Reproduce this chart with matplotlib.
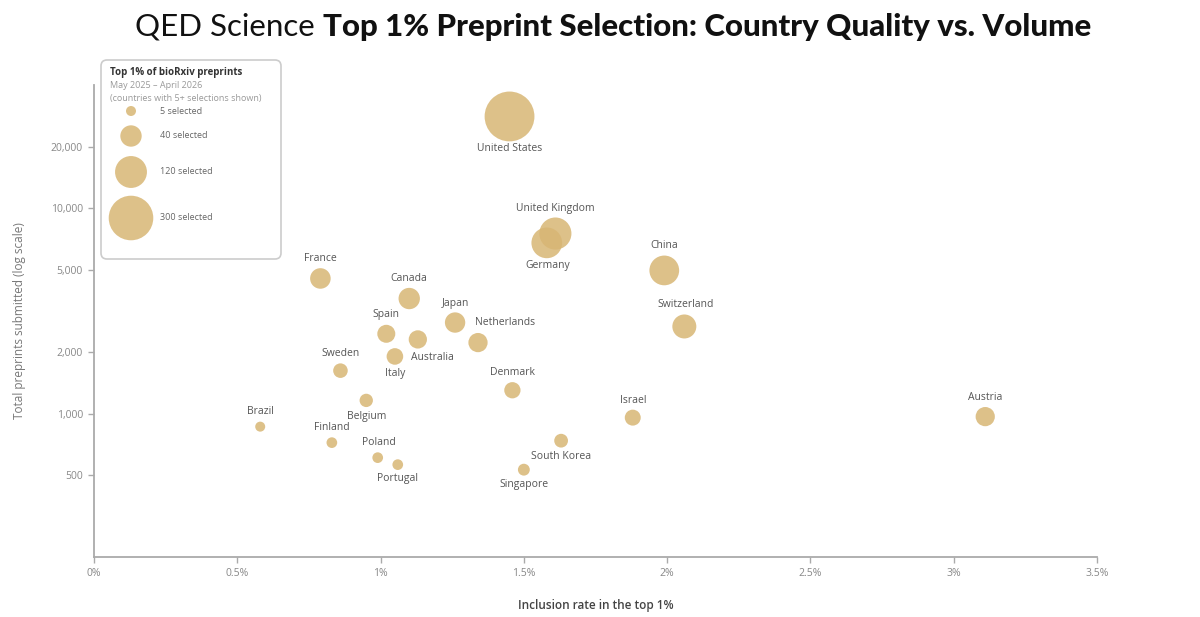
import matplotlib
matplotlib.use('Agg')
import matplotlib.pyplot as plt
from matplotlib.patches import FancyBboxPatch
from matplotlib.ticker import FuncFormatter, FixedLocator, NullLocator
import numpy as np

plt.rcParams['font.family'] = ['Open Sans', 'DejaVu Sans']

# data
countries = ['United States', 'United Kingdom', 'Germany', 'China', 'Switzerland',
             'France', 'Canada', 'Japan', 'Netherlands', 'Spain', 'Australia',
             'Italy', 'Sweden', 'Denmark', 'Belgium', 'Israel', 'Austria',
             'Brazil', 'Finland', 'South Korea', 'Poland', 'Portugal', 'Singapore']
inclusion_rate = [1.45, 1.61, 1.58, 1.99, 2.06,
                  0.79, 1.10, 1.26, 1.34, 1.02, 1.13,
                  1.05, 0.86, 1.46, 0.95, 1.88, 3.11,
                  0.58, 0.83, 1.63, 0.99, 1.06, 1.50]
total_preprints = [28100, 7550, 6800, 4990, 2660,
                   4560, 3640, 2780, 2220, 2450, 2300,
                   1900, 1620, 1300, 1160, 956, 967,
                   864, 722, 738, 610, 564, 533]
selected = [407, 122, 108, 99, 55,
            36, 40, 35, 30, 25, 26,
            20, 14, 19, 11, 18, 30,
            5, 6, 12, 6, 6, 8]
legend_counts = [5, 40, 120, 300]
x_ticks = [0, 0.5, 1, 1.5, 2, 2.5, 3, 3.5]
y_ticks = [500, 1000, 2000, 5000, 10000, 20000]

# label offsets (pixels) relative to bubble centre
label_offsets = {
    'United States': (0, -32), 'United Kingdom': (0, 25), 'Germany': (1, -23),
    'China': (0, 25), 'Switzerland': (1, 22), 'France': (0, 20), 'Canada': (0, 20),
    'Japan': (0, 19), 'Netherlands': (27, 20), 'Spain': (0, 19), 'Australia': (15, -18),
    'Italy': (0, -17), 'Sweden': (0, 17), 'Denmark': (0, 18), 'Belgium': (0, -16),
    'Israel': (0, 17), 'Austria': (0, 19), 'Brazil': (0, 15), 'Finland': (0, 15),
    'South Korea': (0, -16), 'Poland': (1, 15), 'Portugal': (0, -14), 'Singapore': (0, -15),
}

DPI = 100
W, H = 1200, 617
BUBBLE = '#D8B674'
GREY = '#888888'


def bubble_size(n):
    r_px = 5 * (np.asarray(n, dtype=float) / 5) ** 0.365
    return (2 * r_px * 72 / DPI) ** 2


fig = plt.figure(figsize=(W / DPI, H / DPI), dpi=DPI)
ax = fig.add_axes([94 / W, 1 - 557 / H, (1097 - 94) / W, (557 - 85) / H])

order = np.argsort(selected)[::-1]
ax.scatter(np.array(inclusion_rate)[order], np.array(total_preprints)[order],
           s=bubble_size(np.array(selected)[order]), color=BUBBLE, alpha=0.85,
           linewidths=0, zorder=3)

for c, xr, yt in zip(countries, inclusion_rate, total_preprints):
    dx, dy = label_offsets[c]
    ax.annotate(c, (xr, yt), xytext=(dx, dy), textcoords='offset pixels',
                ha='center', va='center', fontsize=7.5, color='#555555', zorder=4)

ax.set_yscale('log')
ax.set_xlim(0, 3.5)
ax.set_ylim(200, 40000)
ax.xaxis.set_major_locator(FixedLocator(x_ticks))
ax.yaxis.set_major_locator(FixedLocator(y_ticks))
ax.yaxis.set_minor_locator(NullLocator())
ax.xaxis.set_major_formatter(FuncFormatter(lambda v, p: ('%g' % v) + '%'))
ax.yaxis.set_major_formatter(FuncFormatter(lambda v, p: '{:,.0f}'.format(v)))

for spine in ['top', 'right']:
    ax.spines[spine].set_visible(False)
for spine in ['left', 'bottom']:
    ax.spines[spine].set_color('#aaaaaa')
    ax.spines[spine].set_linewidth(1.3)
ax.tick_params(axis='both', direction='out', color='#aaaaaa', length=4, width=1,
               labelsize=7.5, labelcolor=GREY, pad=4)

ax.set_xlabel('Inclusion rate in the top 1%', fontsize=8.5, color='#444444',
              fontweight='semibold', labelpad=14)
ax.set_ylabel('Total preprints submitted (log scale)', fontsize=8.5, color='#777777',
              labelpad=18)

# overlay for title and legend, in pixel coordinates
ov = fig.add_axes([0, 0, 1, 1], zorder=5)
ov.set_xlim(0, W)
ov.set_ylim(H, 0)
ov.axis('off')
ov.patch.set_alpha(0)

t1 = ov.text(0, 27, 'QED Science ', fontsize=22.5, fontfamily=['Lato', 'DejaVu Sans'],
             fontweight='normal', va='center', ha='left', color='#111111')
t2 = ov.text(0, 27, 'Top 1% Preprint Selection: Country Quality vs. Volume', fontsize=22.5,
             fontfamily=['Lato', 'DejaVu Sans'], fontweight='black', va='center',
             ha='left', color='#111111')
fig.canvas.draw()
r = fig.canvas.get_renderer()
w1 = t1.get_window_extent(r).width
w2 = t2.get_window_extent(r).width
x0 = 613 - (w1 + w2) / 2
t1.set_x(x0)
t2.set_x(x0 + w1)

box = FancyBboxPatch((101, 60), 180, 199, boxstyle='round,pad=0,rounding_size=6',
                     facecolor='white', edgecolor='#cccccc', linewidth=1.2)
ov.add_patch(box)
ov.text(110, 72, 'Top 1% of bioRxiv preprints', fontsize=7, fontweight='bold',
        color='#333333', va='center')
ov.text(110, 86, 'May 2025 \u2013 April 2026', fontsize=6.5, color='#999999', va='center')
ov.text(110, 98, '(countries with 5+ selections shown)', fontsize=6.5, color='#999999',
        va='center')
leg_y = [111, 136, 172, 218]
ov.scatter([131] * len(legend_counts), leg_y, s=bubble_size(legend_counts),
           color=BUBBLE, alpha=0.85, linewidths=0)
for n, yy in zip(legend_counts, leg_y):
    ov.text(160, yy, '%d selected' % n, fontsize=6.5, color='#666666', va='center')

fig.savefig('out.png', dpi=DPI, facecolor='white')
